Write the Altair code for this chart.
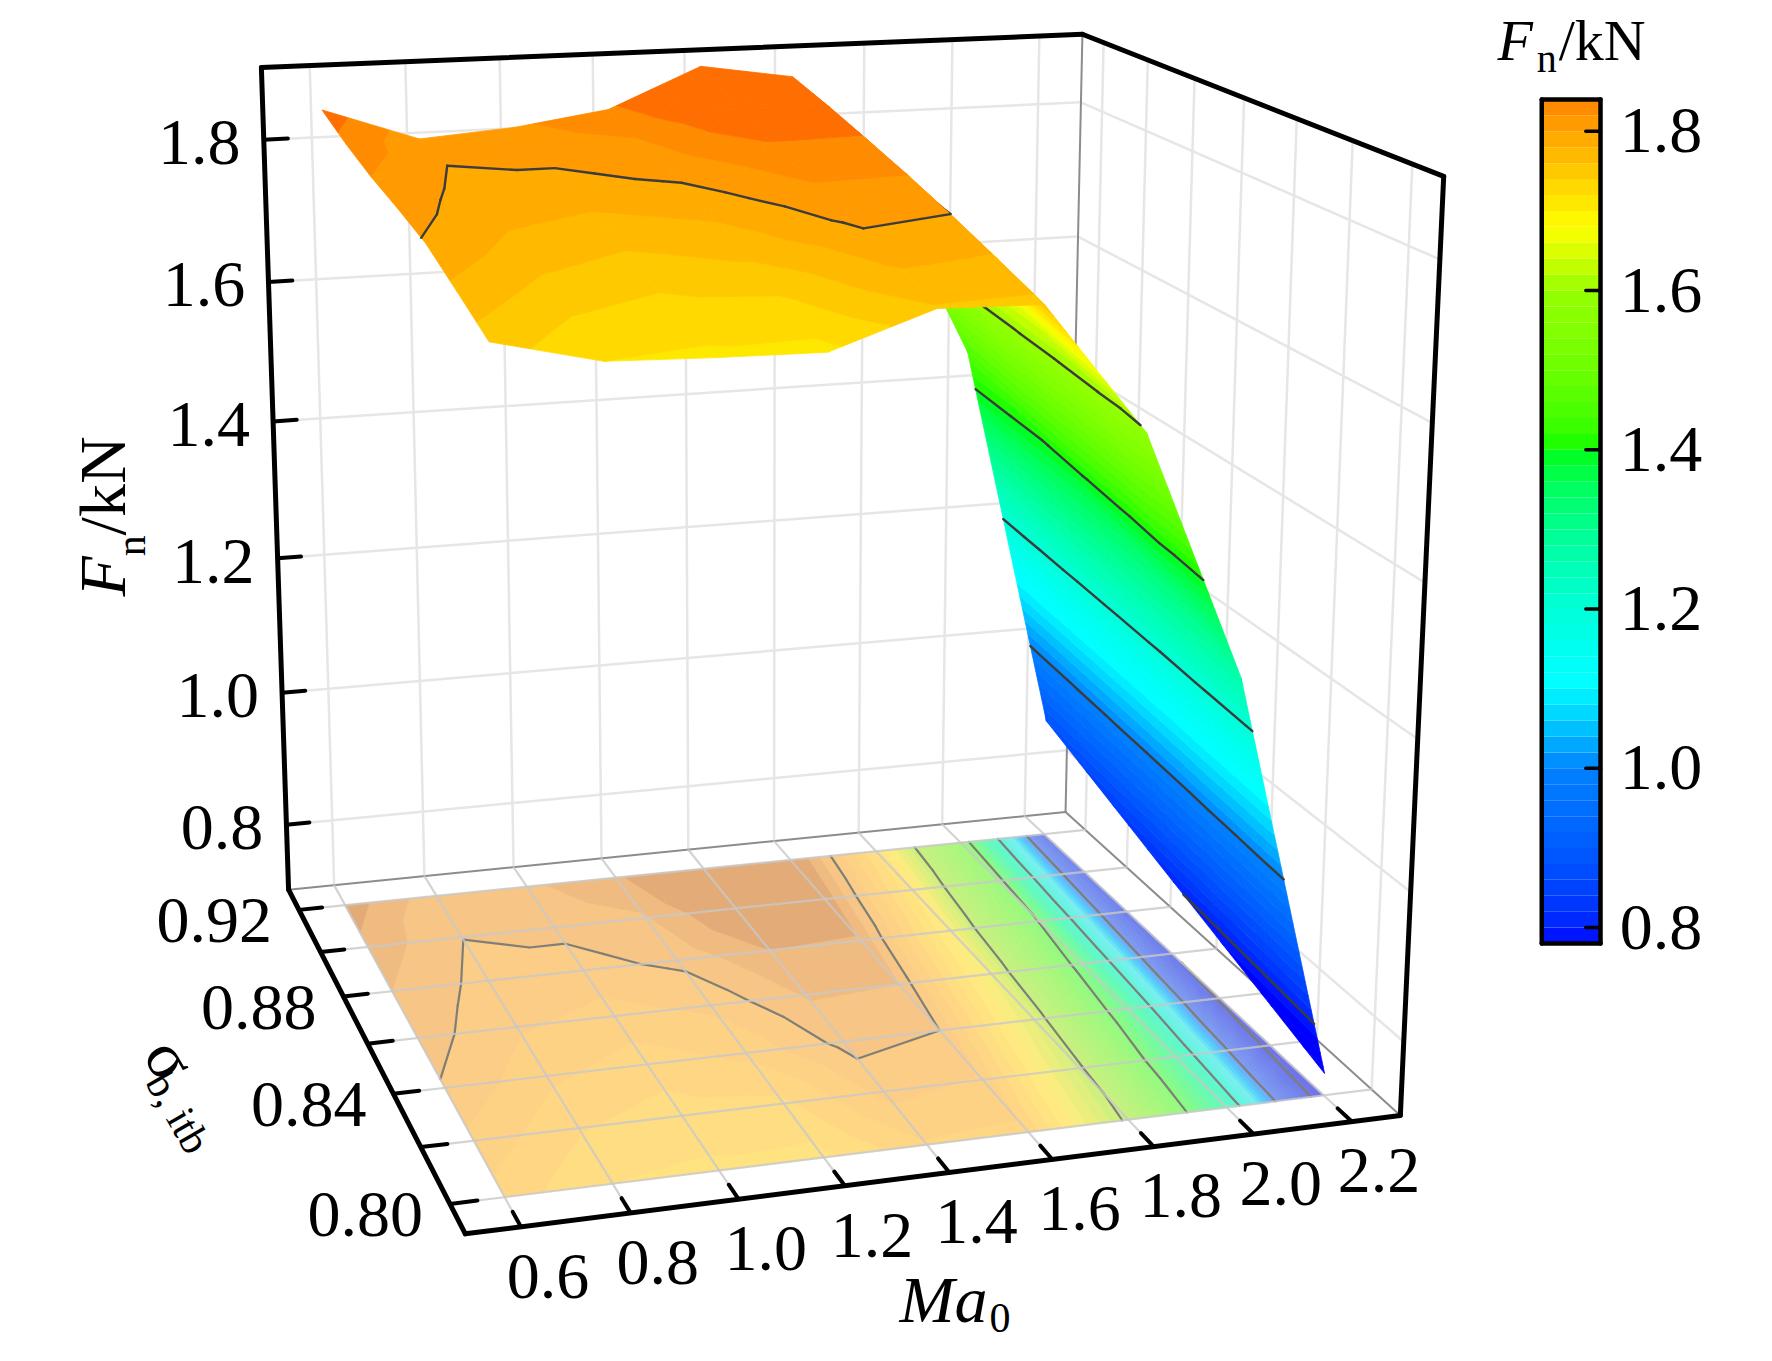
import numpy as np
import pandas as pd
import altair as alt

MA = [0.6, 0.8, 1.0, 1.2, 1.4, 1.6, 1.8, 2.0, 2.2]
SIGMA = [0.80, 0.82, 0.84, 0.86, 0.88, 0.90, 0.92]
F_MA06 = [1.751, 1.775, 1.798, 1.810, 1.820, 1.834, 1.852]
F_MA08 = [1.720, 1.742, 1.765, 1.783, 1.792, 1.8005, 1.806]
F_MA10 = [1.716, 1.730, 1.750, 1.772, 1.792, 1.805, 1.816]
F_MA12 = [1.714, 1.735, 1.765, 1.785, 1.805, 1.818, 1.835]
F_MA14 = [1.758, 1.787, 1.807, 1.822, 1.840, 1.865, 1.890]
F_MA16 = [1.755, 1.778, 1.800, 1.820, 1.838, 1.855, 1.870]
F_MA18 = [1.590, 1.610, 1.635, 1.655, 1.675, 1.700, 1.720]
F_MA20 = [1.270, 1.300, 1.335, 1.365, 1.395, 1.425, 1.456]
F_MA22 = [0.730, 0.755, 0.780, 0.805, 0.830, 0.855, 0.880]
F_GRID = np.array([F_MA06, F_MA08, F_MA10, F_MA12, F_MA14, F_MA16, F_MA18, F_MA20, F_MA22])

MA_TICKS = [0.6, 0.8, 1.0, 1.2, 1.4, 1.6, 1.8, 2.0, 2.2]
SIGMA_TICKS = [0.80, 0.82, 0.84, 0.86, 0.88, 0.90, 0.92]
SIGMA_LABELS = [0.80, 0.84, 0.88, 0.92]
F_TICKS = [0.8, 1.0, 1.2, 1.4, 1.6, 1.8]
LEVELS = [0.8, 1.0, 1.2, 1.4, 1.6, 1.8]
BAND = 0.02
CB_LOW, CB_HIGH = 0.78, 1.84
CMAP_STOPS = [0.78, 1.0, 1.108, 1.4, 1.6, 1.68, 1.83, 1.85]
CMAP_SURF = ["#0000ff", "#0082ff", "#00ffff", "#00ff00", "#96ff00", "#ffff00", "#ff8c00", "#ff6e00"]
FLOOR_STOPS = [0.78, 1.0, 1.108, 1.4, 1.6, 1.68, 1.80, 1.83, 1.85]
CMAP_FLOOR = ["#6e74e8", "#7f9cf0", "#7aeeee", "#90fa80", "#c8f080", "#ffec80", "#fbca88", "#f0bb80", "#e2ab78"]

MA_LO, MA_HI, S_LO, S_HI, F_LO, F_HI = 0.5, 2.3, 0.79, 0.93, 0.7, 1.9
K = 1.130
TOP = 10
W, H = 1750, 1325
# the box corners as they appear on the page fix the camera
VIEW = [((MA_LO, S_LO, F_LO), (412, 1092)), ((MA_HI, S_LO, F_LO), (1238, 988)),
        ((MA_LO, S_HI, F_LO), (254, 787)), ((MA_HI, S_HI, F_LO), (942, 718)),
        ((MA_LO, S_HI, F_HI), (230, 60)), ((MA_HI, S_HI, F_HI), (958, 31)),
        ((MA_HI, S_LO, F_HI), (1276, 155))]


def norm(p):
    return ((p[0] - MA_LO) / (MA_HI - MA_LO), (p[1] - S_LO) / (S_HI - S_LO), (p[2] - F_LO) / (F_HI - F_LO))


rows = []
for w, s in VIEW:
    u, v, t = norm(w)
    x, y = s[0] / 1000, s[1] / 1000
    rows.append([u, v, t, 1, 0, 0, 0, 0, -x * u, -x * v, -x * t, -x])
    rows.append([0, 0, 0, 0, u, v, t, 1, -y * u, -y * v, -y * t, -y])
CAM = np.linalg.svd(np.array(rows))[2][-1].reshape(3, 4)


def disp(p):
    h = CAM @ np.array([*norm(p), 1.0])
    return h[0] / h[2] * 1000, h[1] / h[2] * 1000


def pg(x, y):
    return round(x * K - 8 + 1, 2), round(y * K - 8 - TOP, 2)


def page(p):
    return pg(*disp(p))


def clip(poly, level, above):
    out = []
    n = len(poly)
    for i in range(n):
        a, b = poly[i], poly[(i + 1) % n]
        ia = (a[2] >= level) if above else (a[2] <= level)
        ib = (b[2] >= level) if above else (b[2] <= level)
        if ia:
            out.append(a)
        if ia != ib:
            t = (level - a[2]) / (b[2] - a[2])
            out.append(tuple(a[k] + t * (b[k] - a[k]) for k in range(3)))
    return out


triangles = []
for i in range(len(MA) - 2, -1, -1):
    for j in range(len(SIGMA) - 2, -1, -1):
        a = (MA[i], SIGMA[j], F_GRID[i, j])
        b = (MA[i + 1], SIGMA[j], F_GRID[i + 1, j])
        c = (MA[i + 1], SIGMA[j + 1], F_GRID[i + 1, j + 1])
        d = (MA[i], SIGMA[j + 1], F_GRID[i, j + 1])
        triangles += [(MA[i], (a, b, c)), (MA[i], (a, c, d))]

edges = [0.72 + BAND * n for n in range(64)]


def features(floor, test):
    out = []
    for m0, tri in triangles:
        if not test(m0):
            continue
        for lo in edges:
            hi = lo + BAND
            fs = [q[2] for q in tri]
            if max(fs) < lo or min(fs) > hi:
                continue
            poly = clip(clip(list(tri), lo, True), hi, False)
            if len(poly) < 3:
                continue
            pts = [page((q[0], q[1], F_LO if floor else q[2])) for q in poly]
            pts.append(pts[0])
            out.append({"type": "Feature", "properties": {"F": float(lo + BAND / 2)},
                        "geometry": {"type": "Polygon", "coordinates": [[list(q) for q in pts]]}})
    return out


def contours(floor, test):
    out = []
    for m0, tri in triangles:
        if not test(m0):
            continue
        for level in LEVELS:
            lv = level + 1e-6
            cross = []
            for k in range(3):
                a, b = tri[k], tri[(k + 1) % 3]
                if (a[2] - lv) * (b[2] - lv) < 0:
                    t = (lv - a[2]) / (b[2] - a[2])
                    cross.append(tuple(a[n] + t * (b[n] - a[n]) for n in range(3)))
            if len(cross) == 2:
                p = page((cross[0][0], cross[0][1], F_LO if floor else cross[0][2]))
                q = page((cross[1][0], cross[1][1], F_LO if floor else cross[1][2]))
                out.append(dict(x=p[0], y=p[1], x2=q[0], y2=q[1]))
    return pd.DataFrame(out, columns=["x", "y", "x2", "y2"])


sx = alt.Scale(domain=[0, W], range=[0, W], nice=False, zero=False)
sy = alt.Scale(domain=[0, H], range=[0, H], nice=False, zero=False)


def rules(df, color, width, opacity=1.0):
    return alt.Chart(df).mark_rule(color=color, strokeWidth=width, opacity=opacity, strokeCap="round").encode(
        x=alt.X("x:Q", scale=sx, axis=None), y=alt.Y("y:Q", scale=sy, axis=None), x2="x2:Q", y2="y2:Q")


def seg(pairs):
    out = []
    for a, b in pairs:
        p, q = page(a), page(b)
        out.append(dict(x=p[0], y=p[1], x2=q[0], y2=q[1]))
    return pd.DataFrame(out)


def shapes(feats, stops, colors, stroke=0.8):
    sc = alt.Scale(domain=stops, range=colors, clamp=True)
    return alt.Chart(alt.Data(values=feats)).mark_geoshape(strokeWidth=stroke, strokeJoin="round").encode(
        color=alt.Color("properties.F:Q", scale=sc, legend=None),
        stroke=alt.Stroke("properties.F:Q", scale=sc, legend=None)).project(type="identity", scale=1, translate=[0, 0])


def texts(items, size, style="normal", angle=0, font="Liberation Serif"):
    df = pd.DataFrame([dict(x=pg(a, b)[0], y=pg(a, b)[1], t=t) for t, a, b in items])
    return alt.Chart(df).mark_text(font=font, fontSize=size, fontStyle=style, angle=angle, align="center",
                                   baseline="middle", color="black").encode(
        x=alt.X("x:Q", scale=sx, axis=None), y=alt.Y("y:Q", scale=sy, axis=None), text="t:N")


# grids
wall_grid = seg([((m, S_HI, F_LO), (m, S_HI, F_HI)) for m in MA_TICKS] +
                [((MA_LO, S_HI, f), (MA_HI, S_HI, f)) for f in F_TICKS] +
                [((MA_HI, s, F_LO), (MA_HI, s, F_HI)) for s in SIGMA_TICKS] +
                [((MA_HI, S_LO, f), (MA_HI, S_HI, f)) for f in F_TICKS])
floor_grid = seg([((m, S_LO, F_LO), (m, S_HI, F_LO)) for m in MA_TICKS] +
                 [((MA_LO, s, F_LO), (MA_HI, s, F_LO)) for s in SIGMA_TICKS])
thin = seg([((MA_HI, S_HI, F_LO), (MA_HI, S_HI, F_HI)), ((MA_LO, S_HI, F_LO), (MA_HI, S_HI, F_LO)),
            ((MA_HI, S_HI, F_LO), (MA_HI, S_LO, F_LO))])
thick = seg([((MA_LO, S_HI, F_HI), (MA_HI, S_HI, F_HI)), ((MA_HI, S_HI, F_HI), (MA_HI, S_LO, F_HI)),
             ((MA_HI, S_LO, F_HI), (MA_HI, S_LO, F_LO)), ((MA_LO, S_HI, F_HI), (MA_LO, S_HI, F_LO)),
             ((MA_LO, S_HI, F_LO), (MA_LO, S_LO, F_LO)), ((MA_LO, S_LO, F_LO), (MA_HI, S_LO, F_LO))])
ticks = seg([((m, S_LO, F_LO), (m, S_LO + 0.005, F_LO)) for m in MA_TICKS] +
            [((MA_LO, s, F_LO), (MA_LO + 0.05, s, F_LO)) for s in SIGMA_TICKS] +
            [((MA_LO, S_HI, f), (MA_LO + 0.05, S_HI, f)) for f in F_TICKS])

steep = lambda m: m >= 1.6
flat = lambda m: m < 1.6

# colour bar, drawn in page pixels from its own F range
CB_X0, CB_X1 = 1363.5, 1415.5
CB_YTOP, CB_YBOT = 88.0, 835.0


def cb_y(f):
    return CB_YBOT - (f - CB_LOW) / (CB_HIGH - CB_LOW) * (CB_YBOT - CB_YTOP)


cb = []
for n in range(int(round((CB_HIGH - CB_LOW) / BAND))):
    lo = CB_LOW + n * BAND
    hi = min(lo + BAND, CB_HIGH)
    cb.append(dict(x=pg(CB_X0, 0)[0], x2=pg(CB_X1, 0)[0], y=pg(0, cb_y(lo))[1], y2=pg(0, cb_y(hi))[1], F=float((lo + hi) / 2)))
cb_rect = alt.Chart(pd.DataFrame(cb)).mark_rect(stroke=None).encode(
    x=alt.X("x:Q", scale=sx, axis=None), x2="x2:Q", y=alt.Y("y:Q", scale=sy, axis=None), y2="y2:Q",
    color=alt.Color("F:Q", scale=alt.Scale(domain=CMAP_STOPS, range=CMAP_SURF), legend=None))
cb_frame = []
for a, b, c, d in [(CB_X0, CB_YTOP, CB_X1, CB_YTOP), (CB_X1, CB_YTOP, CB_X1, CB_YBOT),
                   (CB_X1, CB_YBOT, CB_X0, CB_YBOT), (CB_X0, CB_YBOT, CB_X0, CB_YTOP)]:
    cb_frame.append(dict(x=pg(a, b)[0], y=pg(a, b)[1], x2=pg(c, d)[0], y2=pg(c, d)[1]))
cb_ticks = []
for f in F_TICKS:
    cb_ticks.append(dict(x=pg(CB_X1 - 13, 0)[0], x2=pg(CB_X1, 0)[0], y=pg(0, cb_y(f))[1], y2=pg(0, cb_y(f))[1]))

LBL = 66
SUB = 42
f_labels = []
for f in F_TICKS:
    x, y = disp((MA_LO, S_HI, f))
    f_labels.append((f"{f:.1f}", x - 57, y + 4))
s_labels = []
for s in SIGMA_LABELS:
    x, y = disp((MA_LO, s, F_LO))
    s_labels.append((f"{s:.2f}", x - 75, y + 11))
m_labels = []
for m in MA_TICKS:
    x, y = disp((m, S_LO, F_LO))
    m_labels.append((f"{m:.1f}", x + 24, y + 45))
cb_labels = [(f"{f:.1f}", 1469, cb_y(f) + 1) for f in F_TICKS]

layers = [
    rules(wall_grid, "#e6e6e6", 2.5),
    rules(thin, "#8c8c8c", 2),
    shapes(features(True, lambda m: True), FLOOR_STOPS, CMAP_FLOOR),
    rules(contours(True, lambda m: True), "#7f7f78", 2.2),
    rules(floor_grid, "#c8c8c8", 2.2, 0.8),
    shapes(features(False, steep), CMAP_STOPS, CMAP_SURF),
    rules(contours(False, steep), "#3c3c3c", 2.4),
    shapes(features(False, flat), CMAP_STOPS, CMAP_SURF),
    rules(contours(False, flat), "#3c3c3c", 2.4),
    rules(thick, "black", 5),
    rules(ticks, "black", 4),
    cb_rect,
    rules(pd.DataFrame(cb_frame), "black", 4.5),
    rules(pd.DataFrame(cb_ticks), "black", 3.5),
    texts(f_labels + s_labels + m_labels, LBL),
    texts(cb_labels, LBL),
    texts([("F", 1340, 38)], 58, style="italic"),
    texts([("n", 1368, 53)], SUB - 2),
    texts([("/kN", 1417, 38)], 58),
    texts([("Ma", 834, 1152)], LBL, style="italic"),
    texts([("0", 884, 1167)], SUB),
    texts([("F", 92, 510)], LBL, style="italic", angle=270),
    texts([("n", 116, 483)], SUB, angle=270),
    texts([("/kN", 92, 430)], LBL, angle=270),
    texts([("σ", 148, 938)], LBL, angle=60),
    texts([("b, itb", 156, 985)], SUB, angle=60),
]

chart = alt.layer(*layers).resolve_scale(color="independent", stroke="independent").properties(
    width=W, height=H, padding={"left": 0, "top": TOP, "right": 0, "bottom": 0},
    autosize=alt.AutoSizeParams(type="none"), background="white"
).configure_view(stroke=None)
chart.save("out.html", embed_options={"renderer": "svg", "actions": False})
